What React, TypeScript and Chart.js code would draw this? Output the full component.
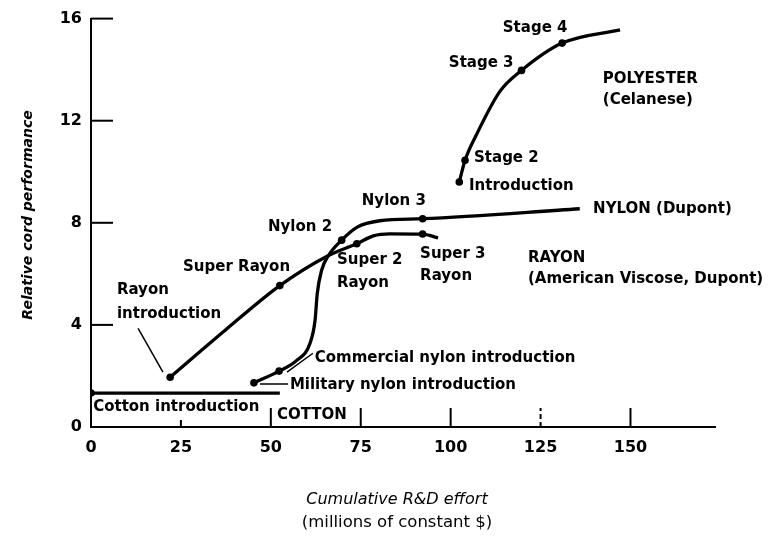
import React, { useEffect, useRef } from "react";
import { Chart, registerables } from "chart.js";

Chart.register(...registerables);

// ---- Data ----
const cottonX = [0, 52.5];
const cottonY = [1.33, 1.33];
const cottonMarked = [true, false];

const rayonX = [22.0, 37.3, 52.5, 65.9, 73.9, 78.5, 83.1, 92.2, 96.5];
const rayonY = [1.95, 3.79, 5.54, 6.71, 7.18, 7.49, 7.57, 7.56, 7.41];
const rayonMarked = [true, false, true, false, true, false, false, true, false];

const nylonX = [45.3, 52.3, 57.2, 60.9, 62.3, 62.9, 64.1, 66.0, 69.7, 73.9, 80.3, 92.2, 135.9];
const nylonY = [1.73, 2.19, 2.61, 3.28, 4.18, 5.22, 6.13, 6.71, 7.32, 7.82, 8.08, 8.16, 8.55];
const nylonMarked = [true, true, false, false, false, false, false, false, true, false, false, true, false];

const polyX = [102.4, 104.0, 107.2, 113.7, 119.7, 131.0, 147.1];
const polyY = [9.6, 10.45, 11.46, 13.15, 13.97, 15.04, 15.56];
const polyMarked = [true, true, false, false, true, true, false];

// leader lines from labels to points: [x1, y1, x2, y2]
const leaderRayon = [13.1, 3.86, 20.0, 2.15];
const leaderCommercial = [54.5, 2.15, 61.7, 2.89];
const leaderMilitary = [47.0, 1.68, 54.8, 1.68];

const xTickValues = [0, 25, 50, 75, 100, 125, 150];
const yTickValues = [0, 4, 8, 12, 16];
const yTickMarkValues = [4, 8, 12, 16];
const xTickMarkValues = [25, 50, 75, 100, 125, 150];

// annotation texts with their data anchors (left, middle)
const labelTexts = [
  "Nylon 2", "Super Rayon", "Rayon", "introduction", "Cotton introduction", "COTTON",
  "Super 2", "Rayon", "Nylon 3", "Super 3", "Rayon", "Stage 4", "Stage 3", "Stage 2",
  "Introduction", "POLYESTER", "(Celanese)", "NYLON (Dupont)", "RAYON",
  "(American Viscose, Dupont)", "Commercial nylon introduction", "Military nylon introduction",
];
const labelX = [49.2, 25.6, 7.2, 7.2, 0.6, 51.7, 68.4, 68.4, 75.3, 91.5, 91.5, 114.5, 99.5, 106.5,
  105.1, 142.3, 142.3, 139.6, 121.5, 121.5, 62.2, 55.3];
const labelY = [7.84, 6.28, 5.35, 4.41, 0.78, 0.47, 6.52, 5.62, 8.86, 6.79, 5.93, 15.61, 14.24, 10.54,
  9.44, 13.62, 12.8, 8.55, 6.63, 5.81, 2.69, 1.64];

const xTitle = "Cumulative R&D effort";
const xSubTitle = "(millions of constant $)";
const yTitle = "Relative cord performance";

const FONT = "'DejaVu Sans', sans-serif";

function pts(xs: number[], ys: number[]) {
  return xs.map((x, i) => ({ x, y: ys[i] }));
}

function curve(xs: number[], ys: number[], marked: boolean[]) {
  return {
    data: pts(xs, ys),
    showLine: true,
    borderColor: "#000",
    backgroundColor: "#000",
    borderWidth: 3.3,
    cubicInterpolationMode: "monotone" as const,
    pointRadius: marked.map((m) => (m ? 3.8 : 0)),
    pointBackgroundColor: "#000",
    pointBorderWidth: 0,
  };
}

function leader(l: number[]) {
  return {
    data: [{ x: l[0], y: l[1] }, { x: l[2], y: l[3] }],
    showLine: true,
    borderColor: "#000",
    borderWidth: 1.5,
    pointRadius: 0,
    tension: 0,
  };
}

const decorPlugin = {
  id: "decor",
  afterDraw(chart: any) {
    const { ctx, scales } = chart;
    const xs = scales.x;
    const ys = scales.y;
    const left = chart.chartArea.left;
    const bottom = chart.chartArea.bottom;
    ctx.save();
    ctx.strokeStyle = "#000";
    ctx.lineWidth = 2;
    for (const v of yTickMarkValues) {
      const py = ys.getPixelForValue(v);
      ctx.beginPath();
      ctx.moveTo(left, py);
      ctx.lineTo(left + 22, py);
      ctx.stroke();
    }
    for (const v of xTickMarkValues) {
      const px = xs.getPixelForValue(v);
      const len = v === 25 ? 7 : 19;
      ctx.setLineDash(v === 125 ? [5, 3] : []);
      ctx.beginPath();
      ctx.moveTo(px, bottom);
      ctx.lineTo(px, bottom - len);
      ctx.stroke();
    }
    ctx.setLineDash([]);

    ctx.fillStyle = "#000";
    ctx.textAlign = "left";
    ctx.textBaseline = "middle";
    ctx.font = `bold 15px ${FONT}`;
    labelTexts.forEach((t, i) => {
      ctx.fillText(t, xs.getPixelForValue(labelX[i]), ys.getPixelForValue(labelY[i]));
    });

    ctx.textAlign = "center";
    ctx.font = `italic 16px ${FONT}`;
    ctx.fillText(xTitle, 397, 500);
    ctx.font = `16.5px ${FONT}`;
    ctx.fillText(xSubTitle, 397, 523);
    ctx.save();
    ctx.translate(28, 215);
    ctx.rotate(-Math.PI / 2);
    ctx.font = `italic bold 14px ${FONT}`;
    ctx.fillText(yTitle, 0, 0);
    ctx.restore();
    ctx.restore();
  },
};

export default function App() {
  const ref = useRef<HTMLCanvasElement | null>(null);
  useEffect(() => {
    if (!ref.current) return;
    const chart = new Chart(ref.current, {
      type: "scatter",
      data: {
        datasets: [
          curve(cottonX, cottonY, cottonMarked),
          curve(rayonX, rayonY, rayonMarked),
          curve(nylonX, nylonY, nylonMarked),
          curve(polyX, polyY, polyMarked),
          leader(leaderRayon),
          leader(leaderCommercial),
          leader(leaderMilitary),
        ] as any,
      },
      options: {
        animation: false,
        responsive: false,
        layout: { padding: { top: 17, right: 55, left: 0, bottom: 0 } },
        plugins: { legend: { display: false }, tooltip: { enabled: false } },
        scales: {
          x: {
            type: "linear",
            min: 0,
            max: 173.5,
            afterBuildTicks: (s: any) => {
              s.ticks = xTickValues.map((v) => ({ value: v }));
            },
            afterFit: (s: any) => {
              s.height = 109;
            },
            ticks: {
              color: "#000",
              font: { family: FONT, size: 16, weight: "bold" },
              padding: 11,
              maxRotation: 0,
            },
            grid: { display: false, drawTicks: false },
            border: { display: true, color: "#000", width: 2 },
          },
          y: {
            type: "linear",
            min: 0,
            max: 16,
            afterBuildTicks: (s: any) => {
              s.ticks = yTickValues.map((v) => ({ value: v }));
            },
            afterFit: (s: any) => {
              s.width = 91;
            },
            ticks: {
              color: "#000",
              font: { family: FONT, size: 16, weight: "bold" },
              padding: 9,
            },
            grid: { display: false, drawTicks: false },
            border: { display: true, color: "#000", width: 2 },
          },
        },
      },
      plugins: [decorPlugin],
    });
    return () => chart.destroy();
  }, []);
  return (
    <div style={{ position: "fixed", left: 0, top: 0, width: 770, height: 536, background: "#fff" }}>
      <canvas ref={ref} width={770} height={536} />
    </div>
  );
}
